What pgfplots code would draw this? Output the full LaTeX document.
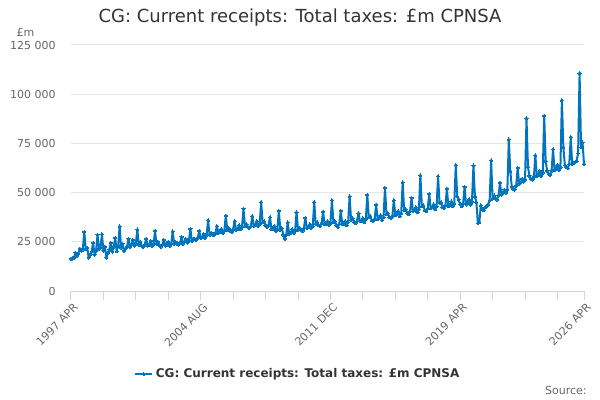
\documentclass[border=0pt]{standalone}
\usepackage{pgfplots}
\pgfplotsset{compat=1.18}
\usepackage{pgfplotstable}
\usepackage{fontspec}
\setmainfont{DejaVu Sans}
\definecolor{linec}{HTML}{0075BE}
\definecolor{gridc}{HTML}{E6E6E6}
\definecolor{axisc}{HTML}{CCD6EB}
\definecolor{labc}{HTML}{666666}
\definecolor{titc}{HTML}{333333}

\pgfplotstableread[row sep=\\]{
v\\
16400\\16500\\16800\\19500\\18000\\19000\\21500\\20500\\21000\\30000\\21500\\22000\\
17000\\18500\\20000\\24500\\18500\\20500\\28600\\21500\\22000\\28800\\20500\\22500\\
17000\\19500\\21000\\24500\\20000\\22500\\27000\\20200\\23000\\32900\\22000\\24000\\
20500\\21500\\22500\\26500\\22500\\23500\\26000\\23000\\24000\\31200\\23500\\25000\\
23000\\22500\\23500\\26500\\23000\\23500\\25500\\23000\\23500\\30600\\24000\\25000\\
23000\\22500\\23500\\26000\\23000\\23500\\25000\\23000\\24000\\30300\\24000\\25000\\
24000\\23500\\24500\\27500\\24000\\25000\\26500\\24500\\25500\\31600\\25500\\26500\\
26500\\26000\\27000\\30500\\27000\\27500\\29000\\27000\\28500\\35900\\28500\\29500\\
28500\\28500\\29500\\33000\\29500\\30000\\31500\\29500\\30500\\38300\\31000\\32000\\
30500\\30000\\31500\\35500\\31000\\31500\\33500\\31500\\32500\\41800\\33000\\34000\\
32500\\32000\\33000\\38000\\33000\\33500\\35500\\33000\\34000\\45200\\35000\\35500\\
33500\\32500\\33500\\37500\\31500\\31500\\33000\\30500\\31500\\40800\\31000\\32000\\
28500\\26500\\28500\\34900\\29000\\29500\\31500\\29500\\30500\\40000\\31000\\32000\\
31000\\30500\\32000\\37100\\32000\\32500\\34000\\32000\\33000\\45200\\34000\\35000\\
33500\\33000\\34500\\40300\\34000\\34000\\35500\\33500\\34500\\46100\\35000\\35500\\
33500\\32500\\34000\\40800\\34000\\34000\\35500\\33500\\35000\\48100\\36000\\37000\\
35000\\34500\\35500\\39500\\35500\\35500\\37000\\35000\\36500\\48800\\37500\\38000\\
36000\\35500\\36500\\43900\\36500\\37000\\38500\\36000\\37500\\52400\\39000\\39500\\
37500\\37000\\38000\\46100\\38500\\39000\\40500\\38000\\39500\\55200\\41000\\41500\\
39500\\39000\\40500\\47300\\40500\\41000\\42500\\40000\\41500\\58800\\43000\\43500\\
41000\\40500\\42000\\49300\\42000\\42500\\44000\\41500\\43000\\58300\\45000\\45000\\
42500\\42000\\43500\\52000\\43000\\43500\\45500\\43000\\44500\\64000\\48000\\46500\\
44000\\43000\\44500\\52900\\44000\\44500\\46500\\44000\\45500\\63800\\48000\\45000\\
34500\\35000\\43500\\41500\\41000\\42500\\43000\\44000\\46000\\66300\\47000\\48500\\
47000\\46500\\48500\\55000\\49000\\50000\\51500\\50000\\51500\\77000\\60900\\53000\\
52000\\51500\\53500\\62600\\54500\\55000\\57000\\55500\\56500\\87800\\63000\\58500\\
57000\\56500\\58000\\68900\\58500\\59000\\61000\\58500\\60000\\89000\\66000\\61000\\
59500\\59000\\61000\\72000\\61500\\62000\\64000\\61500\\63000\\96900\\73000\\64000\\
63000\\62500\\64500\\78200\\64500\\65000\\65500\\66000\\70000\\110700\\73000\\75500\\
64500\\
}\taxdata

\begin{document}
\begin{tikzpicture}[x=1pt,y=1pt]
\useasboundingbox (0,0) rectangle (450,300);
\begin{axis}[
  at={(53.25pt,81.75pt)}, anchor=south west,
  scale only axis, width=384.75pt, height=184.5pt,
  xmin=0, xmax=348, ymin=0, ymax=125000,
  scaled y ticks=false, scaled x ticks=false,
  axis x line*=bottom, axis y line*=left,
  x axis line style={draw=axisc, line width=0.75pt},
  y axis line style={draw=none},
  ytick={0,25000,50000,75000,100000,125000},
  yticklabels={0,25 000,50 000,75 000,100 000,125 000},
  ytick style={draw=none},
  yticklabel style={font=\fontsize{8.25}{10}\selectfont, text=labc, anchor=east, xshift=-8pt},
  xtick={0,88,176,264,348},
  xticklabels={1997 APR,2004 AUG,2011 DEC,2019 APR,2026 APR},
  minor xtick={22,44,66,110,132,154,198,220,242,286,308,330},
  xtick align=outside,
  major tick length=7pt, minor tick length=7pt,
  xtick style={draw=axisc, line width=0.75pt},
  xminorticks=true,
  xticklabel style={font=\fontsize{8.25}{10}\selectfont, text=labc, rotate=45, anchor=north east, inner sep=1pt, xshift=1pt, yshift=-1pt},
  ymajorgrids, grid style={draw=gridc, line width=0.75pt},
  minor x grid style={draw=none},
  title={CG: Current receipts: Total taxes: £m CPNSA},
  title style={font=\fontsize{13.5}{16}\selectfont, text=titc, at={(axis description cs:0.4464,1.1098)}, anchor=center, yshift=-6pt},
  ylabel={£m},
  ylabel style={rotate=-90, font=\fontsize{8.25}{10}\selectfont, text=labc, at={(axis description cs:-0.115,1.053)}, anchor=west},
  legend style={at={(axis description cs:0.4425,-0.337)}, anchor=center, draw=none, fill=none,
    font=\bfseries\fontsize{9}{11}\selectfont, text=titc},
  legend image code/.code={\draw[mark repeat=2,mark phase=2,#1] plot coordinates {(0pt,0pt)(6.5pt,0pt)(13pt,0pt)};},
  clip=false,
]
\addplot[color=linec, line width=1.5pt, mark=*, mark size=1.2pt, mark options={fill=linec, draw=linec, line width=0pt}, line join=round]
  table[x expr=\coordindex, y=v] {\taxdata};
\addlegendentry{CG: Current receipts: Total taxes: £m CPNSA}
\end{axis}
\node[anchor=base east, font=\fontsize{8.25}{10}\selectfont, text=labc] at (443.5,4.5) {Source:};
\end{tikzpicture}
\end{document}
